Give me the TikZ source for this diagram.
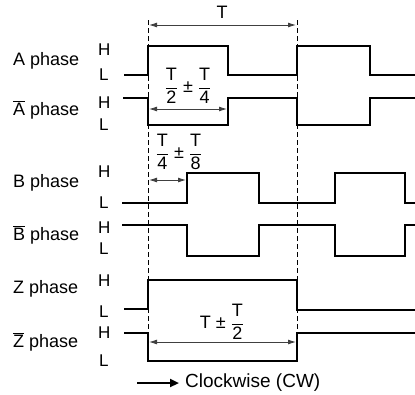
\documentclass[tikz,border=0pt]{standalone}
\usepackage{fontspec}
\setmainfont{Liberation Sans}
\usetikzlibrary{arrows.meta}

\tikzset{
	wave/.style={line width=1.6pt, line join=miter},
	guide/.style={line width=1pt, dash pattern=on 5pt off 3pt},
	dim/.style={{Latex[length=8pt,width=5pt]}-{Latex[length=8pt,width=5pt]}, line width=0.9pt, black!75},
	txt/.style={font=\fontsize{18}{20}\selectfont, inner sep=0pt},
	lvl/.style={font=\fontsize{17}{19}\selectfont, inner sep=0pt, anchor=west},
}
\newcommand{\hfrac}[2]{$\displaystyle\frac{\mbox{#1}}{\mbox{#2}}$}
\newcommand{\barred}[1]{$\overline{\mbox{#1}}$}

\begin{document}
\begin{tikzpicture}[x=1pt, y=-1pt]
	\useasboundingbox (0,0) rectangle (415,394);

	% guide lines
	\coordinate (gl) at (148,20);
	\coordinate (gr) at (297,20);
	\draw[guide] (gl) -- (148,333);
	\draw[guide] (gr) -- (297,333);

	% phase names
	\node[txt, anchor=west] (nA)  at (13,61)  {A phase};
	\node[txt, anchor=west] (nAb) at (13,110) {\barred{A} phase};
	\node[txt, anchor=west] (nB)  at (13,183) {B phase};
	\node[txt, anchor=west] (nBb) at (13,235) {\barred{B} phase};
	\node[txt, anchor=west] (nZ)  at (13,289) {Z phase};
	\node[txt, anchor=west] (nZb) at (13,342) {\barred{Z} phase};

	% levels
	\foreach \n/\h/\l in {A/50/75, Ab/103/125, B/172/203, Bb/228/249, Z/281/312, Zb/333/361} {
		\node[lvl] (h\n) at (98,\h) {H};
		\node[lvl] (l\n) at (99,\l) {L};
	}

	% waveforms
	\draw[wave] (124,75) -| (148,46) -| (228,75) -| (297,46) -| (370,75) -- (415,75);
	\draw[wave] (123,98) -| (148,125) -| (228,98) -| (297,125) -| (370,98) -- (415,98);
	\draw[wave] (122,203) -| (187,173) -| (259,203) -| (335,173) -| (405,203) -- (415,203);
	\draw[wave] (122,225) -| (187,256) -| (259,225) -| (335,256) -| (405,225) -- (415,225);
	\draw[wave] (124,309) -| (148,280) -| (297,310) -- (415,310);
	\draw[wave] (124,333) -| (148,361) -| (297,333) -- (415,333);

	% dimensions
	\coordinate (t1) at (149,25);
	\coordinate (t2) at (296,25);
	\draw[dim] (t1) -- (t2);
	\node[txt] (tT) at (222,12) {T};

	\coordinate (a1) at (149,109);
	\coordinate (a2) at (227,109);
	\draw[dim] (a1) -- (a2);
	\node[txt] (tA) at (188,86) {\hfrac{T}{2} ± \hfrac{T}{4}};

	\coordinate (b1) at (149,180);
	\coordinate (b2) at (186,180);
	\draw[dim] (b1) -- (b2);
	\node[txt] (tB) at (179,152) {\hfrac{T}{4} ± \hfrac{T}{8}};

	\coordinate (z1) at (149,342);
	\coordinate (z2) at (296,342);
	\draw[dim] (z1) -- (z2);
	\node[txt] (tZ) at (222,322) {T ± \hfrac{T}{2}};

	% direction
	\coordinate (cw) at (137,383);
	\node[txt, anchor=west, font=\fontsize{19}{21}\selectfont] (tCW) at (185,383) {Clockwise (CW)};
	\draw[line width=2.2pt, -{Triangle[length=9pt,width=8pt]}, shorten >=6pt] (cw) -- (tCW.west);
\end{tikzpicture}
\end{document}
